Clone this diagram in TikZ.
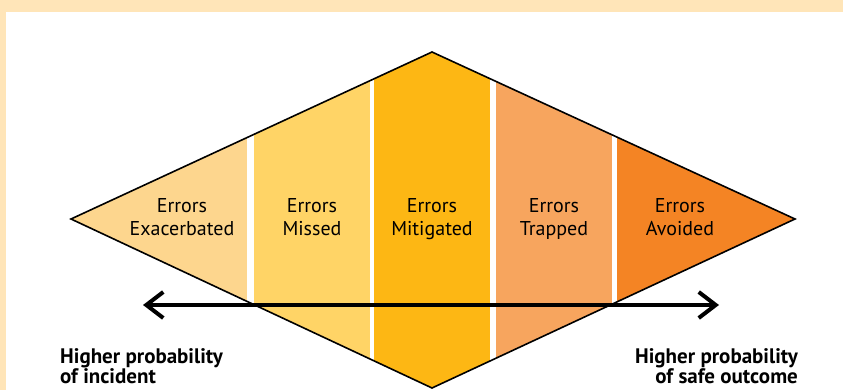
\documentclass[tikz,border=0pt]{standalone}
\usepackage{fontspec}
\setmainfont{PT Sans}
\usetikzlibrary{arrows.meta}
\definecolor{frameC}{HTML}{FFE5B8}
\definecolor{bandA}{HTML}{FDD68E}
\definecolor{bandB}{HTML}{FFD466}
\definecolor{bandC}{HTML}{FDB714}
\definecolor{bandD}{HTML}{F7A55E}
\definecolor{bandE}{HTML}{F48424}
\tikzset{
  bandlabel/.style={anchor=base, align=center, inner sep=0pt, font=\fontsize{20}{24}\selectfont},
  sidelabel/.style={inner sep=0pt, font=\fontsize{21}{20}\selectfont\bfseries},
  outline/.style={draw=black, line width=1.6pt, line join=miter},
  bigarrow/.style={line width=4pt, {Straight Barb[length=17pt,width=26pt]}-{Straight Barb[length=17pt,width=26pt]}}
}
\begin{document}
\begin{tikzpicture}[x=1pt,y=-1pt]
\useasboundingbox (0,0) rectangle (843,390);
\fill[frameC] (0,0) rectangle (843,390);
\fill[white] (6,12) rectangle (843,390);
\coordinate (L) at (71,219);
\coordinate (T) at (432,52);
\coordinate (R) at (795,219);
\coordinate (B) at (432,388);
\begin{scope}
  \clip (L) -- (T) -- (R) -- (B) -- cycle;
  \fill[bandA] (60,40) rectangle (247,400);
  \fill[bandB] (254,40) rectangle (370,400);
  \fill[bandC] (374,40) rectangle (490,400);
  \fill[bandD] (496,40) rectangle (612,400);
  \fill[bandE] (617,40) rectangle (800,400);
\end{scope}
\draw[outline] (L) -- (T) -- (R) -- (B) -- cycle;
\node[bandlabel] (t1) at (182,236) {Errors\\Exacerbated};
\node[bandlabel] (t2) at (312,236) {Errors\\Missed};
\node[bandlabel] (t3) at (432,236) {Errors\\Mitigated};
\node[bandlabel] (t4) at (554,236) {Errors\\Trapped};
\node[bandlabel] (t5) at (680,236) {Errors\\Avoided};
\coordinate (aL) at (143,305);
\coordinate (aR) at (719,305);
\draw[bigarrow] (aL) -- (aR);
\node[sidelabel, anchor=base west, align=left] (s1) at (60,383) {Higher probability\\of incident};
\node[sidelabel, anchor=base east, align=right] (s2) at (798,383) {Higher probability\\of safe outcome};
\end{tikzpicture}
\end{document}
